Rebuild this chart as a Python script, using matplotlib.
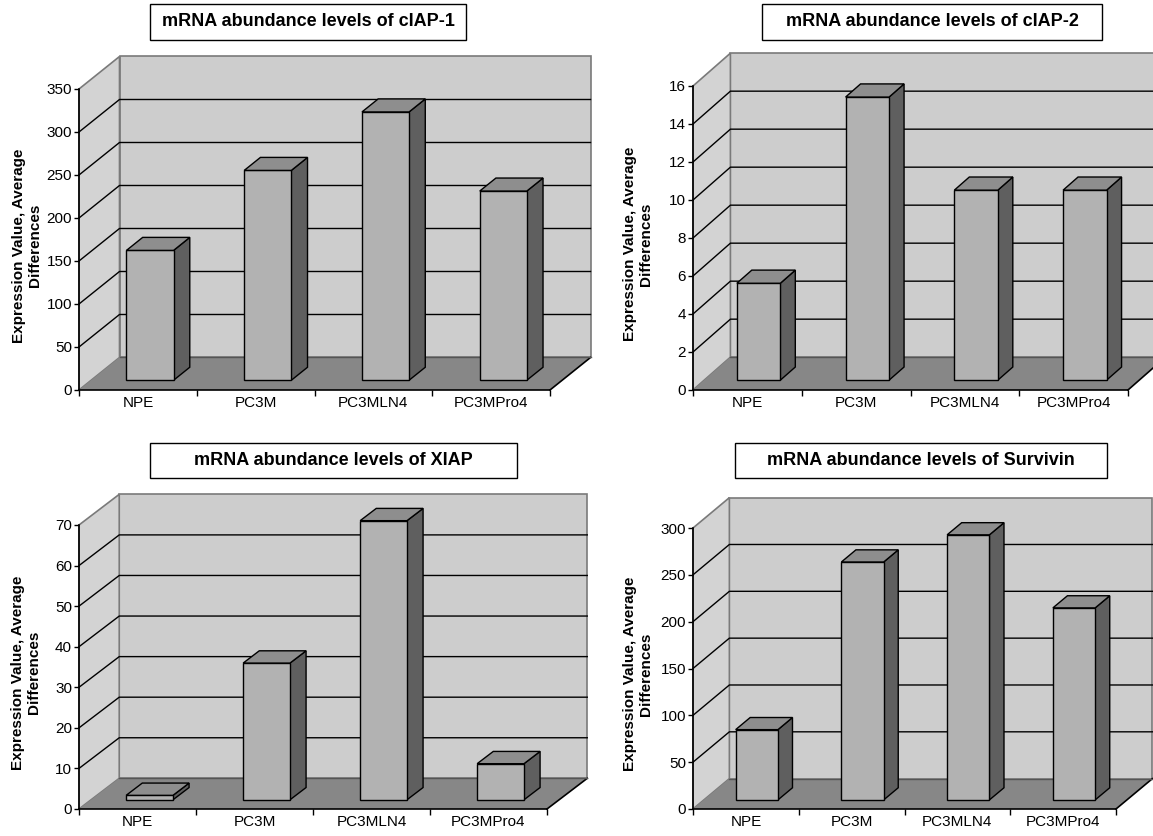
import matplotlib
matplotlib.use("Agg")
import matplotlib.pyplot as plt
from matplotlib.patches import Polygon, Rectangle

plt.rcParams["font.family"] = ["Liberation Sans", "DejaVu Sans"]

CELL_LINES = ["NPE", "PC3M", "PC3MLN4", "PC3MPro4"]

CIAP1 = [151, 244, 312, 220]
CIAP2 = [5.1, 14.9, 10.0, 10.0]
XIAP = [1.1, 33.7, 68.8, 8.9]
SURVIVIN = [75, 254, 283, 205]

TITLES = [
    "mRNA abundance levels of cIAP-1",
    "mRNA abundance levels of cIAP-2",
    "mRNA abundance levels of XIAP",
    "mRNA abundance levels of Survivin",
]
Y_MAX = [350, 16, 70, 300]
Y_STEP = [50, 2, 10, 50]
Y_LABEL = "Expression Value, Average\nDifferences"

W, H = 1153, 836

# front plane of each panel in pixels: left, right, bottom, top
PANEL_PX = [
    (79, 550, 390, 89),
    (693, 1128, 390, 86),
    (79, 547, 809, 525),
    (693, 1116, 809, 528),
]
# title boxes in pixels: left, right, top, bottom
TITLE_BOX = [
    (150, 466, 4, 40),
    (762, 1102, 4, 40),
    (150, 517, 443, 478),
    (735, 1107, 443, 478),
]
YLABEL_X = [-0.11, -0.126, -0.113, -0.13]

# oblique depth of the box, as a fraction of the front plane
DX, DY = 0.086, 0.108
BAR_FRONT, BAR_BACK = 0.3, 0.7
BAR_W = 0.4

WALL = "#cdcdcd"
SIDE_WALL = "#d3d3d3"
FLOOR = "#878787"
FACE = "#b2b2b2"
TOP = "#8e8e8e"
SIDE = "#5f5f5f"
EDGE_GRAY = "#7a7a7a"


def draw_title(fig, text, box):
    left, right, top, bottom = box
    fig.add_artist(Rectangle((left / W, 1 - bottom / H), (right - left) / W,
                             (bottom - top) / H, transform=fig.transFigure,
                             facecolor="white", edgecolor="black", lw=1.0))
    fig.text((left + right) / 2 / W, 1 - (top + bottom) / 2 / H, text,
             ha="center", va="center", fontsize=13, fontweight="bold")


def draw_panel(ax, values, ymax, step, ylabel_x):
    n = len(values)
    ax.set_xlim(0, n)
    ax.set_ylim(0, ymax)
    for s in ("top", "right"):
        ax.spines[s].set_visible(False)
    ax.spines["left"].set_linewidth(1.2)
    ax.spines["bottom"].set_linewidth(1.2)
    ax.patch.set_visible(False)

    ta = ax.transAxes
    # back wall, left wall and floor
    ax.add_patch(Polygon([(DX, DY), (1 + DX, DY), (1 + DX, 1 + DY), (DX, 1 + DY)],
                         closed=True, transform=ta, facecolor=WALL,
                         edgecolor=EDGE_GRAY, lw=1.2, clip_on=False, zorder=0))
    ax.add_patch(Polygon([(0, 0), (DX, DY), (DX, 1 + DY), (0, 1)],
                         closed=True, transform=ta, facecolor=SIDE_WALL,
                         edgecolor=EDGE_GRAY, lw=1.2, clip_on=False, zorder=0))
    ticks = list(range(0, ymax + 1, step))
    for v in ticks[1:-1]:
        f = v / ymax
        ax.plot([0, DX, 1 + DX], [f, f + DY, f + DY], transform=ta,
                color="black", lw=1.0, clip_on=False, zorder=1)
    ax.add_patch(Polygon([(0, 0), (1, 0), (1 + DX, DY), (DX, DY)],
                         closed=True, transform=ta, facecolor=FLOOR,
                         edgecolor="none", clip_on=False, zorder=2))
    ax.plot([1, 1 + DX], [0, DY], transform=ta, color="black", lw=1.2,
            clip_on=False, zorder=2)
    ax.plot([DX, 1 + DX], [DY, DY], transform=ta, color="#555555", lw=1.0,
            clip_on=False, zorder=2)

    # columns: front face via bar, top and side faces from the same values
    dxd, dyd = DX * n, DY * ymax
    centers = [i + 0.5 for i in range(n)]
    ax.bar([c + BAR_FRONT * dxd for c in centers], values, width=BAR_W,
           bottom=BAR_FRONT * dyd, color=FACE, edgecolor="black", lw=1.0,
           zorder=4, clip_on=False)
    for c, v in zip(centers, values):
        x0 = c - BAR_W / 2
        x1 = c + BAR_W / 2
        fa, fb = BAR_FRONT, BAR_BACK
        side = [(x1 + fa * dxd, fa * dyd), (x1 + fb * dxd, fb * dyd),
                (x1 + fb * dxd, v + fb * dyd), (x1 + fa * dxd, v + fa * dyd)]
        top = [(x0 + fa * dxd, v + fa * dyd), (x1 + fa * dxd, v + fa * dyd),
               (x1 + fb * dxd, v + fb * dyd), (x0 + fb * dxd, v + fb * dyd)]
        ax.add_patch(Polygon(side, closed=True, facecolor=SIDE,
                             edgecolor="black", lw=1.0, zorder=3, clip_on=False))
        ax.add_patch(Polygon(top, closed=True, facecolor=TOP,
                             edgecolor="black", lw=1.0, zorder=5, clip_on=False))

    ax.set_yticks(ticks)
    ax.tick_params(axis="y", direction="out", length=3.5, width=1.0,
                   pad=1.5, labelsize=11)
    ax.set_xticks(range(n + 1))
    ax.set_xticklabels([])
    ax.set_xticks(centers, minor=True)
    ax.set_xticklabels(CELL_LINES, minor=True)
    ax.tick_params(axis="x", which="major", direction="out", length=4.5, width=1.0)
    ax.tick_params(axis="x", which="minor", length=0, pad=4, labelsize=11)

    ax.set_ylabel(Y_LABEL, fontsize=11, fontweight="bold", linespacing=1.2)
    ax.yaxis.label.set_va("center")
    ax.yaxis.set_label_coords(ylabel_x, 0.48)


fig = plt.figure(figsize=(W / 100, H / 100), dpi=100)
fig.patch.set_facecolor("white")

series = [CIAP1, CIAP2, XIAP, SURVIVIN]
for k, vals in enumerate(series):
    left, right, bottom, top = PANEL_PX[k]
    ax = fig.add_axes([left / W, 1 - bottom / H, (right - left) / W, (bottom - top) / H])
    draw_panel(ax, vals, Y_MAX[k], Y_STEP[k], YLABEL_X[k])
    draw_title(fig, TITLES[k], TITLE_BOX[k])

fig.savefig("out.png", dpi=100, facecolor="white")
